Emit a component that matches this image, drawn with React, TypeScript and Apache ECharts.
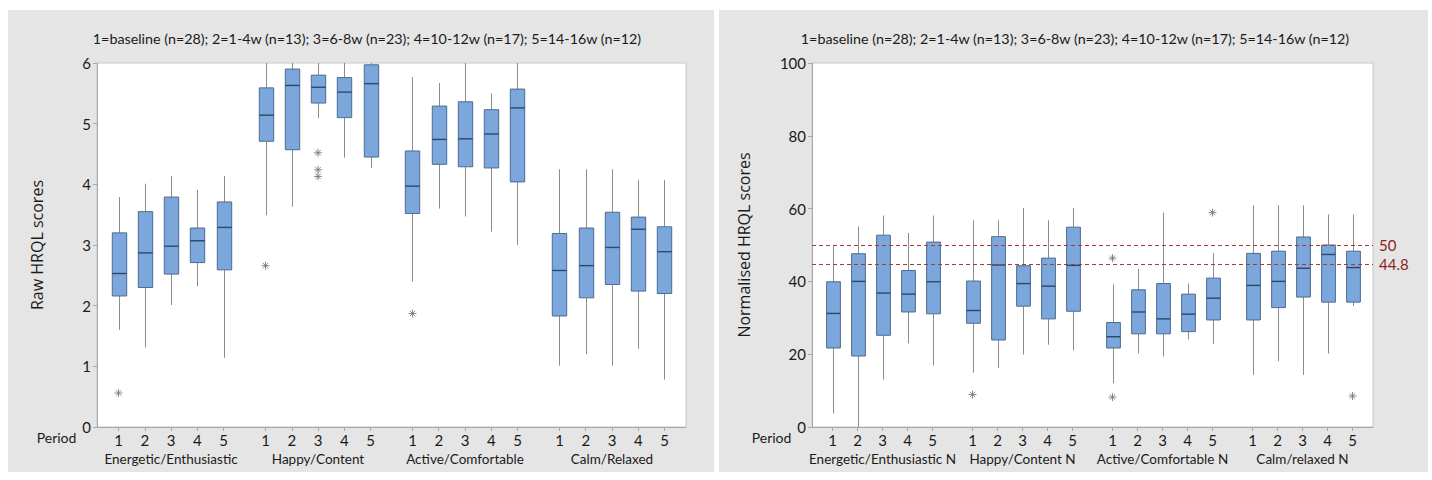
import React, { useEffect, useRef } from "react";
import * as echarts from "echarts";

const periods = ["1", "2", "3", "4", "5"];
const rawGroups = ["Energetic/Enthusiastic", "Happy/Content", "Active/Comfortable", "Calm/Relaxed"];
const normGroups = ["Energetic/Enthusiastic N", "Happy/Content N", "Active/Comfortable N", "Calm/relaxed N"];
const subtitle = "1=baseline (n=28); 2=1-4w (n=13); 3=6-8w (n=23); 4=10-12w (n=17); 5=14-16w (n=12)";

// each box: [min, Q1, median, Q3, max]
const rawEnergetic = [[1.6, 2.16, 2.53, 3.2, 3.79], [1.31, 2.3, 2.87, 3.55, 4.01], [2.01, 2.52, 2.98, 3.79, 4.14], [2.32, 2.71, 3.07, 3.28, 3.91], [1.14, 2.59, 3.29, 3.71, 4.14]];
const rawHappy = [[3.49, 4.71, 5.14, 5.59, 6.0], [3.63, 4.57, 5.63, 5.9, 6.0], [5.09, 5.34, 5.6, 5.8, 6.0], [4.44, 5.1, 5.52, 5.76, 6.0], [4.27, 4.45, 5.66, 5.97, 6.0]];
const rawActive = [[2.4, 3.52, 3.97, 4.55, 5.77], [3.6, 4.33, 4.74, 5.29, 5.67], [3.47, 4.29, 4.75, 5.36, 6.0], [3.22, 4.27, 4.83, 5.23, 5.5], [3.0, 4.04, 5.26, 5.57, 6.0]];
const rawCalm = [[1.01, 1.83, 2.58, 3.19, 4.25], [1.2, 2.13, 2.66, 3.28, 4.25], [1.01, 2.35, 2.96, 3.54, 4.25], [1.29, 2.24, 3.26, 3.46, 4.07], [0.78, 2.2, 2.89, 3.3, 4.07]];
// [group index, period, value]
const rawOutliers = [[0, 1, 0.56], [1, 1, 2.66], [1, 3, 4.52], [1, 3, 4.24], [1, 3, 4.13], [2, 1, 1.87]];

const normEnergetic = [[3.7, 21.7, 31.2, 39.9, 50.0], [0, 19.5, 40.0, 47.6, 55.1], [13.0, 25.2, 36.8, 52.7, 58.1], [23.0, 31.6, 36.5, 43.0, 53.3], [16.9, 31.1, 39.9, 50.8, 58.1]];
const normHappy = [[14.9, 28.5, 32.0, 40.1, 56.8], [16.2, 23.9, 44.5, 52.3, 56.8], [19.9, 33.2, 39.4, 44.3, 60.2], [22.6, 29.7, 38.7, 46.4, 56.8], [21.0, 31.8, 44.4, 54.9, 60.2]];
const normActive = [[12.0, 21.7, 24.8, 28.7, 39.2], [20.2, 25.6, 31.6, 37.7, 43.5], [19.4, 25.6, 29.7, 39.4, 58.9], [24.1, 26.2, 31.0, 36.5, 39.4], [22.8, 29.4, 35.4, 40.9, 47.8]];
const normCalm = [[14.3, 29.4, 38.9, 47.7, 60.9], [18.1, 32.8, 40.0, 48.3, 60.9], [14.3, 35.7, 43.6, 52.2, 60.9], [20.2, 34.3, 47.4, 50.0, 58.4], [33.2, 34.3, 43.8, 48.3, 58.4]];
const normOutliers = [[1, 1, 8.9], [2, 1, 46.4], [2, 1, 8.2], [2, 5, 58.9], [3, 5, 8.5]];
const refLines = [50, 44.8];

const GROUP_STEP = 5.6;
const X_PAD = 0.82;
const BOX_W = 0.55;
const pos = (g: number, p: number) => g * GROUP_STEP + (p - 1);
const xPositions = rawGroups.flatMap((_, g) => periods.map((_, i) => pos(g, i + 1)));

const FONT_NUM = "Lato, sans-serif";
const FONT_NAME = "'Open Sans', sans-serif";
const TXT = "#1a1a1a";
const REF_RED = "#a63a36";

function boxData(groups: number[][][]) {
  return groups.flatMap((grp, g) => grp.map((v, i) => [pos(g, i + 1), ...v]));
}

function renderBox(params: any, api: any) {
  const x = api.value(0);
  const lo = api.coord([x, api.value(1)]);
  const q1 = api.coord([x, api.value(2)]);
  const md = api.coord([x, api.value(3)]);
  const q3 = api.coord([x, api.value(4)]);
  const hi = api.coord([x, api.value(5)]);
  const w = api.size([BOX_W, 0])[0];
  const cx = Math.round(q1[0]) + 0.5;
  const whisker = { stroke: "#8c8c8c", lineWidth: 1 };
  return {
    type: "group",
    children: [
      { type: "line", shape: { x1: cx, y1: lo[1], x2: cx, y2: q1[1] }, style: whisker },
      { type: "line", shape: { x1: cx, y1: q3[1], x2: cx, y2: hi[1] }, style: whisker },
      {
        type: "rect",
        shape: { x: cx - w / 2, y: q3[1], width: w, height: q1[1] - q3[1] },
        style: { fill: "#7ba7dc", stroke: "#4d6b91", lineWidth: 1 },
      },
      {
        type: "line",
        shape: { x1: cx - w / 2, y1: md[1], x2: cx + w / 2, y2: md[1] },
        style: { stroke: "#2e4868", lineWidth: 1.4 },
      },
    ],
  };
}

const ASTERISK = "path://M5 0L5 10M0 5L10 5M1.6 1.6L8.4 8.4M1.6 8.4L8.4 1.6";

function xAxisFor(gridIndex: number, groups: string[], periodGap: number) {
  return {
    type: "value",
    gridIndex,
    min: -X_PAD,
    max: pos(3, 5) + X_PAD,
    name: "Period",
    nameLocation: "start",
    nameGap: periodGap,
    nameTextStyle: { color: TXT, fontFamily: FONT_NUM, fontSize: 14, verticalAlign: "top", padding: [3, 0, 0, 0] },
    axisLine: { show: true, onZero: false, lineStyle: { color: "#a8a8a8" } },
    axisTick: { show: true, customValues: xPositions, length: 4, lineStyle: { color: "#a8a8a8" } },
    splitLine: { show: false },
    axisLabel: {
      customValues: xPositions,
      margin: 4,
      color: TXT,
      fontFamily: FONT_NUM,
      fontSize: 15,
      lineHeight: 17,
      formatter: (val: number) => {
        const idx = xPositions.findIndex((v) => Math.abs(v - val) < 1e-6);
        if (idx < 0) return "";
        const g = Math.floor(idx / 5);
        const p = idx % 5;
        return p === 2 ? `${periods[p]}\n{grp|${groups[g]}}` : periods[p];
      },
      rich: { grp: { color: TXT, fontFamily: FONT_NUM, fontSize: 13.5, lineHeight: 21 } },
    },
  };
}

function yAxisFor(gridIndex: number, max: number, interval: number, name: string, nameGap: number) {
  return {
    type: "value",
    gridIndex,
    min: 0,
    max,
    interval,
    name,
    nameLocation: "middle",
    nameGap,
    nameTextStyle: { color: TXT, fontFamily: FONT_NAME, fontSize: 16 },
    axisLine: { show: true, onZero: false, lineStyle: { color: "#a8a8a8" } },
    axisTick: { show: true, length: 4, lineStyle: { color: "#a8a8a8" } },
    splitLine: { show: false },
    axisLabel: { color: TXT, fontFamily: FONT_NUM, fontSize: 15, margin: 6 },
  };
}

export default function App() {
  const ref = useRef<HTMLDivElement>(null);
  useEffect(() => {
    if (!ref.current) return;
    const chart = echarts.init(ref.current, undefined, { renderer: "svg" });
    const titleStyle = { color: TXT, fontFamily: FONT_NUM, fontSize: 14.3, fontWeight: "normal" };
    const option: any = {
      animation: false,
      backgroundColor: "transparent",
      title: [
        { text: subtitle, left: 362, top: 26, textAlign: "center", textStyle: titleStyle },
        { text: subtitle, left: 1070, top: 26, textAlign: "center", textStyle: titleStyle },
      ],
      grid: [
        { left: 97, top: 63, width: 589, height: 364, show: true, backgroundColor: "#ffffff", borderColor: "#c8c8c8", borderWidth: 1 },
        { left: 812, top: 63, width: 561, height: 364, show: true, backgroundColor: "#ffffff", borderColor: "#c8c8c8", borderWidth: 1 },
      ],
      xAxis: [xAxisFor(0, rawGroups, 5), xAxisFor(1, normGroups, 9)],
      yAxis: [
        yAxisFor(0, 6, 1, "Raw HRQL scores", 52),
        yAxisFor(1, 100, 20, "Normalised HRQL scores", 60),
      ],
      series: [
        {
          type: "custom",
          name: "Raw",
          xAxisIndex: 0,
          yAxisIndex: 0,
          renderItem: renderBox,
          encode: { x: 0, y: [1, 2, 3, 4, 5] },
          data: boxData([rawEnergetic, rawHappy, rawActive, rawCalm]),
          clip: true,
        },
        {
          type: "scatter",
          xAxisIndex: 0,
          yAxisIndex: 0,
          symbol: ASTERISK,
          symbolSize: 8,
          itemStyle: { color: "transparent", borderColor: "#6f6f6f", borderWidth: 1 },
          data: rawOutliers.map(([g, p, v]) => [pos(g, p), v]),
        },
        {
          type: "line",
          name: "Reference",
          xAxisIndex: 1,
          yAxisIndex: 1,
          data: [],
          color: REF_RED,
          markLine: {
            silent: true,
            symbol: "none",
            lineStyle: { color: REF_RED, type: [4, 3], width: 1, opacity: 1 },
            label: { show: true, position: "end", color: "#8e1f1b", fontFamily: FONT_NUM, fontSize: 15, formatter: "{c}", distance: 6 },
            data: refLines.map((v) => ({ yAxis: v })),
          },
        },
        {
          type: "custom",
          name: "Normalised",
          xAxisIndex: 1,
          yAxisIndex: 1,
          renderItem: renderBox,
          encode: { x: 0, y: [1, 2, 3, 4, 5] },
          data: boxData([normEnergetic, normHappy, normActive, normCalm]),
          clip: true,
        },
        {
          type: "scatter",
          xAxisIndex: 1,
          yAxisIndex: 1,
          symbol: ASTERISK,
          symbolSize: 8,
          itemStyle: { color: "transparent", borderColor: "#6f6f6f", borderWidth: 1 },
          data: normOutliers.map(([g, p, v]) => [pos(g, p), v]),
        },
      ],
    };
    chart.setOption(option);
    return () => chart.dispose();
  }, []);

  return (
    <div style={{ position: "absolute", left: 0, top: 0, width: 1432, height: 480, background: "#ffffff" }}>
      <div style={{ position: "absolute", left: 8, top: 10, width: 706, height: 462, background: "#e5e5e5" }} />
      <div style={{ position: "absolute", left: 719, top: 10, width: 709, height: 462, background: "#e5e5e5" }} />
      <div ref={ref} style={{ position: "absolute", left: 0, top: 0, width: 1432, height: 480 }} />
    </div>
  );
}
